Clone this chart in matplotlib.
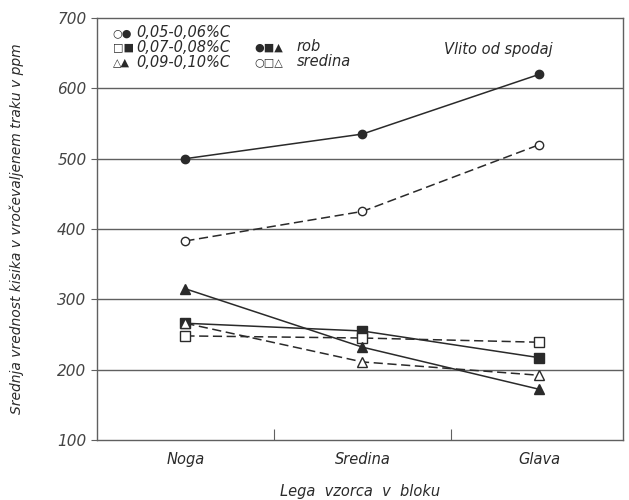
import matplotlib
matplotlib.use("Agg")
import matplotlib.pyplot as plt
import numpy as np

# positions along the block
categories = ["Noga", "Sredina", "Glava"]

# mean oxygen content in ppm, rob (edge) = filled, sredina (centre) = open
c05_rob = [500, 535, 620]
c05_sred = [383, 425, 520]
c07_rob = [266, 255, 217]
c07_sred = [248, 245, 239]
c09_rob = [315, 232, 172]
c09_sred = [266, 211, 192]

yticks = [100, 200, 300, 400, 500, 600, 700]

ink = "#2a2a2a"
fig = plt.figure(figsize=(6.29, 5.0), dpi=100)
ax = fig.add_axes([0.154, 0.12, 0.836, 0.844])

x = np.arange(len(categories))

series = [
    (c05_rob, "o", True),
    (c05_sred, "o", False),
    (c07_rob, "s", True),
    (c07_sred, "s", False),
    (c09_rob, "^", True),
    (c09_sred, "^", False),
]
for vals, mk, filled in series:
    ax.plot(x, vals, color=ink, lw=1.1,
            ls="-" if filled else (0, (6, 3)),
            marker=mk, ms=6.5 if mk != "o" else 6,
            mfc=ink if filled else "white", mec=ink, mew=1.0, zorder=3)

# horizontal rules
for v in yticks[1:-1]:
    ax.axhline(v, color="#606060", lw=1.0, zorder=1)

ax.set_xlim(-0.5, 2.47)
ax.set_ylim(100, 700)
ax.set_yticks(yticks)
ax.set_yticklabels([str(v) for v in yticks], fontsize=11, style="italic", color="#444444")
ax.set_xticks([0.5, 1.5])
ax.set_xticklabels([])
ax.tick_params(axis="x", direction="in", length=8, color="#606060")
ax.tick_params(axis="y", direction="out", length=4, color="#606060")
for i, c in enumerate(categories):
    ax.text(i, -0.028, c, transform=ax.get_xaxis_transform(), ha="center", va="top",
            fontsize=10.5, style="italic", color=ink)

for s in ax.spines.values():
    s.set_color("#606060")
    s.set_linewidth(1.0)

ax.set_ylabel("Srednja vrednost kisika v vročevaljenem traku v ppm", fontsize=10,
              style="italic", color=ink, labelpad=24)
ax.set_xlabel("Lega  vzorca  v  bloku", fontsize=10.5, style="italic", color=ink, labelpad=28)

# legend written as text, like the original drawing
leg = [("○●", "0,05-0,06%C"), ("□■", "0,07-0,08%C"), ("△▲", "0,09-0,10%C")]
for i, (sym, lab) in enumerate(leg):
    yy = 0.965 - i * 0.035
    ax.text(0.03, yy, sym, transform=ax.transAxes, fontsize=8, color=ink, va="center")
    ax.text(0.075, yy, lab, transform=ax.transAxes, fontsize=10.5, style="italic",
            color=ink, va="center")
ax.text(0.30, 0.93, "●■▲", transform=ax.transAxes, fontsize=8, color=ink, va="center")
ax.text(0.38, 0.933, "rob", transform=ax.transAxes, fontsize=10.5, style="italic",
        color=ink, va="center")
ax.text(0.30, 0.895, "○□△", transform=ax.transAxes, fontsize=8, color=ink, va="center")
ax.text(0.38, 0.897, "sredina", transform=ax.transAxes, fontsize=10.5, style="italic",
        color=ink, va="center")
ax.text(0.66, 0.925, "Vlito od spodaj", transform=ax.transAxes, fontsize=10.5,
        style="italic", color=ink, va="center")

fig.savefig("out.png", dpi=100)
